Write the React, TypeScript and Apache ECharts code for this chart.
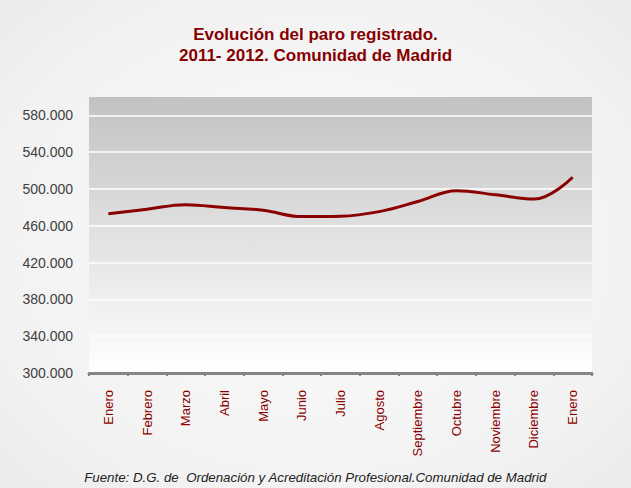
import React, { useEffect, useRef } from "react";
import * as echarts from "echarts";

const titleLines = ["Evolución del paro registrado.", "2011- 2012. Comunidad de Madrid"];
const sourceText = "Fuente: D.G. de  Ordenación y Acreditación Profesional.Comunidad de Madrid";
const months = ["Enero", "Febrero", "Marzo", "Abril", "Mayo", "Junio", "Julio", "Agosto", "Septiembre", "Octubre", "Noviembre", "Diciembre", "Enero"];
const paro = [473200, 478000, 483000, 479800, 476900, 470000, 470400, 475400, 486400, 498200, 493700, 489000, 512800];
const yTicks = [300000, 340000, 380000, 420000, 460000, 500000, 540000, 580000];
const yMin = 300000;
const yMax = 600000;

const fmt = (v: number) => `${Math.floor(v / 1000)}.${String(v % 1000).padStart(3, "0")}`;

export default function App() {
  const ref = useRef<HTMLDivElement>(null);
  useEffect(() => {
    document.body.style.margin = "0";
    const chart = echarts.init(ref.current!, null, { renderer: "svg" });
    chart.setOption({
      animation: false,
      backgroundColor: new echarts.graphic.RadialGradient(0.5, 0.5, 0.75, [
        { offset: 0, color: "#fbfbfb" },
        { offset: 0.7, color: "#f2f2f2" },
        { offset: 1, color: "#e9e9e9" },
      ]),
      title: {
        text: titleLines.join("\n"),
        left: "center",
        top: 19,
        textStyle: {
          fontFamily: "Liberation Sans, Arial",
          fontSize: 17,
          fontWeight: "bold",
          color: "#870000",
          lineHeight: 21,
        },
      },
      graphic: [
        {
          type: "text",
          left: "center",
          top: 471,
          style: {
            text: sourceText,
            fontFamily: "Liberation Sans, Arial",
            fontSize: 13.3,
            fontStyle: "italic",
            fill: "#222",
          },
        },
      ],
      grid: {
        left: 89,
        right: 39,
        top: 97,
        bottom: 115,
        show: true,
        borderWidth: 0,
        backgroundColor: new echarts.graphic.LinearGradient(0, 0, 0, 1, [
          { offset: 0, color: "#c2c2c2" },
          { offset: 0.45, color: "#dedede" },
          { offset: 1, color: "#ffffff" },
        ]),
      },
      xAxis: {
        type: "category",
        data: months,
        boundaryGap: true,
        axisLine: { show: true, lineStyle: { color: "#858585", width: 3 } },
        axisTick: { show: true, length: 3, lineStyle: { color: "#858585", width: 2 } },
        axisLabel: {
          rotate: 90,
          interval: 0,
          margin: 17,
          color: "#8b0000",
          fontFamily: "Liberation Sans, Arial",
          fontSize: 13,
        },
        splitLine: { show: false },
      },
      yAxis: {
        type: "value",
        min: yMin,
        max: yMax,
        interval: 20000,
        axisLine: { show: false },
        axisTick: { show: false },
        splitLine: { show: false },
        axisLabel: {
          margin: 16,
          color: "#404040",
          fontFamily: "Liberation Sans, Arial",
          fontSize: 14,
          formatter: (v: number) => (yTicks.includes(v) ? fmt(v) : ""),
        },
      },
      series: [
        {
          type: "line",
          data: paro,
          smooth: 0.4,
          symbol: "none",
          lineStyle: { color: "#8b0000", width: 3 },
          z: 5,
          markLine: {
            silent: true,
            symbol: "none",
            label: { show: false },
            lineStyle: { color: "#ffffff", width: 1.5, type: "solid" },
            data: yTicks.filter((t) => t > yMin).map((t) => ({ yAxis: t })),
            z: 1,
          },
        },
      ],
    });
    return () => chart.dispose();
  }, []);
  return <div ref={ref} style={{ position: "absolute", left: 0, top: 0, width: 631, height: 488 }} />;
}
